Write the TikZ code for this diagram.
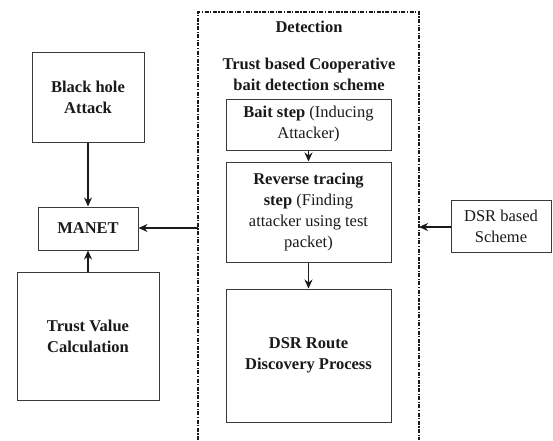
\documentclass[tikz,border=0pt]{standalone}
\usepackage{fontspec}
\setmainfont{Liberation Serif}
\usetikzlibrary{arrows.meta, positioning}
\definecolor{inkblk}{HTML}{1A1A1A}
\definecolor{boxgray}{HTML}{3A3A3A}

\tikzset{
  blockbox/.style={draw=boxgray, line width=1pt, fill=white, inner sep=0pt,
    align=center, text=inkblk, font=\fontsize{16.5}{21}\selectfont},
  flowarrow/.style={-{Stealth[length=9pt, width=8pt]}, inkblk, line width=1.5pt},
  detectframe/.style={inkblk, line width=1.2pt,
    dash pattern=on 4pt off 1.5pt on 1.2pt off 1.5pt},
  headtext/.style={align=center, text=inkblk, inner sep=0pt,
    font=\fontsize{16.5}{21}\selectfont\bfseries}
}

\begin{document}
\begin{tikzpicture}[x=1pt, y=-1pt]

% Canvas (pixel grid of the original)
\useasboundingbox (0,0) rectangle (553,440);

% Detection frame -- bottom edge runs off the page
\draw[detectframe] (198,440) -- (198,12) -- (419,12) -- (419,440);
\coordinate (detL) at (198,228);
\coordinate (detR) at (419,227);

% Titles inside the frame
\node[headtext] (dettitle) at (309,27) {Detection};
\node[headtext] (schemetitle) at (309,74) {Trust based Cooperative\\bait detection scheme};

% Left column
\node[blockbox, minimum width=112pt, minimum height=90pt] (blackhole) at (88,97)
  {\bfseries Black hole\\\bfseries Attack};
\node[blockbox, minimum width=100pt, minimum height=43pt] (manet) at (88,228.5)
  {\bfseries MANET};
\node[blockbox, minimum width=142pt, minimum height=128pt] (trustval) at (88,336)
  {\bfseries Trust Value\\\bfseries Calculation};

% Steps of the scheme
\node[blockbox, minimum width=165pt, minimum height=51pt] (baitstep) at (308.5,124.5)
  {\textbf{Bait step} (Inducing\\Attacker)};
\node[blockbox, minimum width=165pt, minimum height=100pt] (revtrace) at (308.5,212)
  {\textbf{Reverse tracing}\\\textbf{step} (Finding\\attacker using test\\packet)};
\node[blockbox, minimum width=165pt, minimum height=133pt] (dsrroute) at (308.5,355.5)
  {\bfseries DSR Route\\\bfseries Discovery Process};

% Right side
\node[blockbox, minimum width=100pt, minimum height=52pt] (dsrscheme) at (501,226)
  {DSR based\\Scheme};

% Connectors
\draw[flowarrow] (blackhole) -- (manet);
\draw[flowarrow] (trustval) -- (manet);
\draw[flowarrow] (detL) -- (manet.east |- detL);
\draw[flowarrow] (baitstep) -- (revtrace);
\draw[flowarrow] (revtrace) -- (dsrroute);
\draw[flowarrow] (dsrscheme.west |- detR) -- (detR);

\end{tikzpicture}
\end{document}
